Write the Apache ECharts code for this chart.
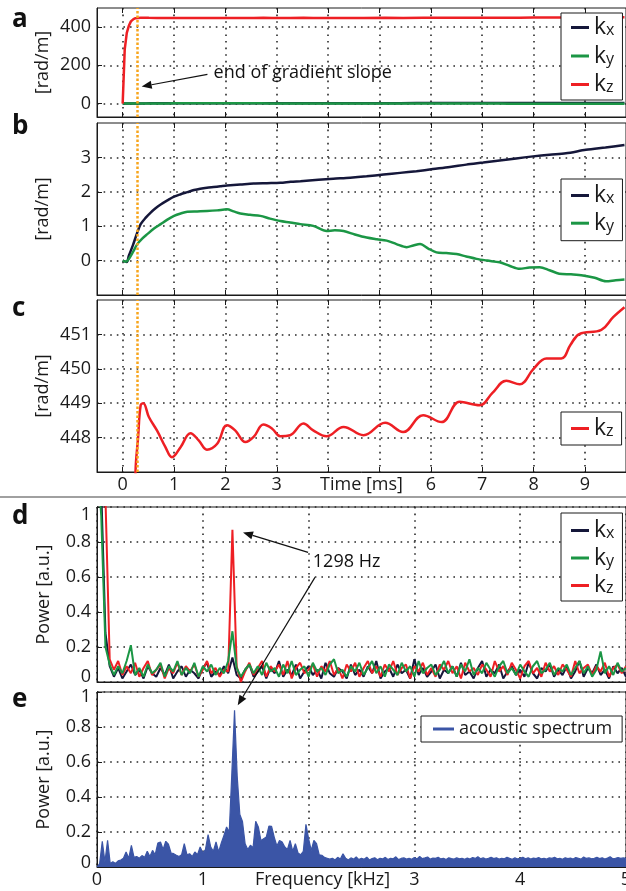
<!DOCTYPE html>
<html>
<head>
<meta charset="utf-8">
<script src="https://cdn.jsdelivr.net/npm/echarts@6/dist/echarts.min.js"></script>
<style>
html, body { margin: 0; padding: 0; background: #fff; }
#chart { width: 626px; height: 891px; }
</style>
</head>
<body>
<div id="chart"></div>
<script>
// k-space trajectories, [time ms, value rad/m]
var kxData = [[0,0],[0.08,-0.04],[0.12,0.14],[0.2,0.45],[0.285,0.82],[0.35,1.06],[0.45,1.25],[0.54,1.39],[0.64,1.52],[0.74,1.63],[0.87,1.75],[1.0,1.86],[1.13,1.93],[1.26,1.99],[1.39,2.05],[1.51,2.09],[1.64,2.12],[1.77,2.14],[1.9,2.16],[2.03,2.18],[2.29,2.21],[2.55,2.24],[2.81,2.25],[3.07,2.26],[3.27,2.29],[3.46,2.31],[3.81,2.35],[4.1,2.38],[4.43,2.41],[4.75,2.45],[5.08,2.5],[5.4,2.55],[5.72,2.6],[6.04,2.66],[6.37,2.72],[6.69,2.79],[7.02,2.85],[7.34,2.91],[7.66,2.97],[7.99,3.03],[8.31,3.08],[8.63,3.12],[9.02,3.22],[9.4,3.29],[9.77,3.36]];
var kyData = [[0,0],[0.06,-0.03],[0.12,0.05],[0.2,0.25],[0.285,0.48],[0.38,0.64],[0.48,0.77],[0.61,0.93],[0.74,1.06],[0.87,1.19],[1.0,1.3],[1.13,1.37],[1.26,1.42],[1.45,1.43],[1.64,1.44],[1.84,1.46],[2.03,1.49],[2.16,1.43],[2.29,1.37],[2.48,1.33],[2.68,1.3],[2.87,1.22],[3.07,1.15],[3.26,1.11],[3.46,1.06],[3.71,1.01],[3.97,0.86],[4.13,0.88],[4.3,0.86],[4.52,0.76],[4.75,0.67],[4.95,0.62],[5.14,0.58],[5.33,0.48],[5.53,0.39],[5.66,0.44],[5.79,0.48],[5.95,0.35],[6.11,0.24],[6.3,0.22],[6.5,0.19],[6.69,0.12],[6.89,0.05],[7.1,0.0],[7.34,-0.05],[7.53,-0.15],[7.73,-0.24],[7.92,-0.2],[8.12,-0.19],[8.31,-0.28],[8.5,-0.38],[8.73,-0.4],[8.96,-0.43],[9.19,-0.5],[9.41,-0.6],[9.6,-0.57],[9.77,-0.55]];
var kzData = [[0,0],[0.04,284],[0.08,370],[0.12,407],[0.16,430],[0.21,442],[0.25,447.0],[0.3,448.0],[0.35,448.94],[0.4,449.0],[0.51,448.6],[0.67,448.2],[0.83,447.73],[0.96,447.43],[1.13,447.73],[1.32,448.13],[1.48,447.92],[1.64,447.65],[1.84,447.82],[2.03,448.36],[2.19,448.21],[2.39,447.87],[2.55,448.02],[2.74,448.38],[2.91,448.26],[3.07,448.04],[3.26,448.07],[3.52,448.41],[3.71,448.21],[3.97,448.04],[4.3,448.31],[4.69,448.07],[5.11,448.43],[5.46,448.16],[5.85,448.65],[6.21,448.45],[6.56,449.04],[6.95,448.94],[7.2,449.3],[7.47,449.65],[7.73,449.55],[8.0,450.0],[8.25,450.3],[8.54,450.3],[8.72,450.7],[8.89,451.01],[9.32,451.13],[9.55,451.5],[9.77,451.79]];

// gradient spectra, one value every 0.04 kHz from 0 to 5 kHz
var specStep = 0.04;
var kxSpec = [1.3,1.1,0.28,0.09,0.03,0.08,0.02,0.06,0.1,0.04,
  0.07,0.02,0.09,0.05,0.03,0.08,0.04,0.1,0.02,0.06,
  0.09,0.03,0.07,0.05,0.02,0.08,0.11,0.03,0.06,0.04,
  0.09,0.05,0.14,0.04,0.02,0.07,0.1,0.03,0.06,0.09,
  0.02,0.08,0.05,0.12,0.03,0.07,0.04,0.1,0.02,0.06,
  0.09,0.04,0.07,0.02,0.11,0.05,0.03,0.08,0.06,0.02,
  0.1,0.04,0.07,0.03,0.09,0.05,0.12,0.02,0.06,0.08,
  0.03,0.1,0.05,0.07,0.02,0.13,0.04,0.08,0.03,0.06,
  0.1,0.02,0.07,0.05,0.09,0.03,0.11,0.04,0.06,0.02,
  0.08,0.12,0.03,0.07,0.05,0.1,0.02,0.06,0.09,0.04,
  0.07,0.03,0.11,0.05,0.02,0.08,0.06,0.1,0.03,0.07,
  0.04,0.09,0.02,0.06,0.12,0.03,0.08,0.05,0.1,0.04,
  0.07,0.02,0.09,0.05,0.08,0.03];
var kySpec = [1.3,0.95,0.2,0.1,0.04,0.09,0.05,0.12,0.21,0.04,
  0.08,0.03,0.1,0.05,0.07,0.11,0.03,0.09,0.06,0.12,
  0.04,0.08,0.05,0.11,0.03,0.09,0.06,0.1,0.04,0.08,
  0.05,0.12,0.29,0.08,0.03,0.07,0.1,0.05,0.09,0.04,
  0.11,0.06,0.08,0.03,0.1,0.05,0.12,0.04,0.07,0.09,
  0.03,0.11,0.06,0.08,0.04,0.1,0.13,0.05,0.07,0.03,
  0.09,0.06,0.11,0.04,0.08,0.12,0.05,0.09,0.03,0.1,
  0.07,0.04,0.11,0.06,0.09,0.03,0.12,0.05,0.08,0.1,
  0.04,0.07,0.12,0.05,0.09,0.03,0.1,0.06,0.13,0.04,
  0.08,0.05,0.11,0.07,0.03,0.09,0.12,0.05,0.08,0.04,
  0.1,0.06,0.03,0.09,0.12,0.05,0.07,0.11,0.04,0.08,
  0.06,0.1,0.04,0.08,0.12,0.05,0.09,0.03,0.07,0.175,
  0.05,0.09,0.04,0.11,0.06,0.08];
var kzSpec = [1.3,1.3,1.05,0.13,0.07,0.12,0.04,0.09,0.05,0.11,
  0.03,0.08,0.12,0.04,0.07,0.1,0.02,0.08,0.05,0.11,
  0.04,0.09,0.06,0.1,0.03,0.07,0.12,0.05,0.08,0.03,
  0.07,0.06,0.87,0.09,0.0,0.06,0.11,0.04,0.08,0.12,
  0.03,0.09,0.06,0.1,0.04,0.12,0.02,0.08,0.11,0.05,
  0.07,0.1,0.03,0.09,0.06,0.12,0.04,0.08,0.02,0.1,
  0.06,0.11,0.03,0.08,0.12,0.05,0.09,0.03,0.1,0.06,
  0.12,0.04,0.08,0.1,0.02,0.09,0.06,0.11,0.04,0.08,
  0.03,0.1,0.07,0.12,0.05,0.09,0.02,0.11,0.06,0.08,
  0.04,0.1,0.07,0.03,0.12,0.06,0.09,0.04,0.11,0.07,
  0.02,0.09,0.12,0.05,0.08,0.03,0.11,0.06,0.09,0.04,
  0.1,0.07,0.03,0.12,0.05,0.08,0.1,0.04,0.09,0.06,
  0.11,0.03,0.08,0.1,0.05,0.09];

// acoustic spectrum, one value every 0.025 kHz
var acousticStep = 0.025;
var acoustic = [0.0,0.02,0.147,0.03,0.152,0.02,0.03,0.02,0.035,0.04,
  0.05,0.086,0.05,0.124,0.055,0.06,0.05,0.065,0.055,0.09,
  0.06,0.095,0.07,0.137,0.143,0.1,0.147,0.13,0.08,0.076,
  0.067,0.06,0.07,0.133,0.07,0.076,0.06,0.086,0.07,0.114,
  0.08,0.1,0.185,0.114,0.09,0.143,0.086,0.137,0.181,0.229,
  0.2,0.543,0.895,0.52,0.3,0.26,0.133,0.1,0.124,0.11,
  0.261,0.229,0.15,0.162,0.171,0.234,0.232,0.171,0.12,0.152,
  0.143,0.114,0.1,0.152,0.09,0.133,0.08,0.07,0.09,0.244,
  0.162,0.095,0.152,0.133,0.07,0.067,0.055,0.05,0.045,0.05,
  0.04,0.055,0.045,0.076,0.05,0.04,0.052,0.045,0.058,0.042,
  0.05,0.044,0.056,0.04,0.048,0.053,0.041,0.05,0.046,0.055,
  0.043,0.05,0.047,0.058,0.042,0.049,0.052,0.045,0.05,0.044,
  0.054,0.046,0.06,0.048,0.052,0.057,0.045,0.051,0.049,0.055,
  0.046,0.05,0.043,0.053,0.048,0.045,0.052,0.047,0.05,0.044,
  0.051,0.046,0.054,0.049,0.058,0.047,0.052,0.045,0.05,0.056,
  0.048,0.053,0.045,0.05,0.047,0.055,0.049,0.044,0.052,0.046,
  0.05,0.056,0.047,0.053,0.045,0.051,0.048,0.054,0.046,0.05,
  0.045,0.052,0.049,0.055,0.047,0.05,0.044,0.053,0.048,0.051,
  0.046,0.054,0.05,0.045,0.057,0.049,0.052,0.047,0.05,0.055,
  0.048,0.053,0.046,0.051,0.058,0.047,0.05,0.054,0.049,0.052,
  0.05];

var timeTicks = [0, 1, 2, 3, 4, 5, 6, 7, 8, 9];
var timeLabels = [0, 1, 2, 3, 6, 7, 8, 9];
var freqLabels = [0, 1, 3, 4, 5];
var gradientEnd = 0.28;

var font = 'Open Sans';
var ink = '#1a1a1a';
var gridCol = '#2a2a2a';
var dots = [1.6, 5];
var cX = '#15173a', cY = '#1b9645', cZ = '#ee1f24', cA = '#3b55a6', cO = '#f8a51c';

function withFreq(vals, step) {
    return vals.map(function (v, i) { return [+(i * step).toFixed(3), v]; });
}

var gridLine = { show: true, lineStyle: { color: gridCol, width: 1.6, type: dots } };

function timeAxis(gi, pos, labels, name) {
    return {
        type: 'value', gridIndex: gi, position: pos, min: -0.5, max: 9.8,
        name: name || '', nameLocation: 'middle', nameGap: 4, nameMoveOverlap: false,
        nameTextStyle: { fontFamily: font, fontSize: 18, color: ink },
        axisLine: { show: pos === 'bottom', onZero: false, lineStyle: { color: ink } },
        axisTick: { show: true, inside: true, length: 5, customValues: timeTicks, lineStyle: { color: ink } },
        axisLabel: { show: !!labels, customValues: labels || timeTicks, margin: 4,
            fontFamily: font, fontSize: 18, color: ink },
        splitLine: pos === 'bottom' ? gridLine : { show: false }
    };
}

function valAxis(gi, min, max, ticks, name, gap) {
    return {
        type: 'value', gridIndex: gi, min: min, max: max,
        name: name, nameLocation: 'middle', nameGap: gap, nameMoveOverlap: false,
        nameTextStyle: { fontFamily: font, fontSize: 18, color: ink },
        axisLine: { show: true, onZero: false, lineStyle: { color: ink } },
        axisTick: { show: true, inside: true, length: 5, customValues: ticks, lineStyle: { color: ink } },
        axisLabel: { customValues: ticks, margin: 6, fontFamily: font, fontSize: 18, color: ink },
        splitLine: gridLine
    };
}

function powerAxis(gi, shiftTop, shiftBottom) {
    var st = { fontFamily: font, fontSize: 18, color: ink };
    return {
        type: 'value', gridIndex: gi, min: 0, max: 1, interval: 0.2,
        name: 'Power [a.u.]', nameLocation: 'middle', nameGap: 44, nameMoveOverlap: false,
        nameTextStyle: st,
        axisLine: { show: true, onZero: false, lineStyle: { color: ink } },
        axisTick: { show: true, inside: true, length: 5, lineStyle: { color: ink } },
        axisLabel: {
            margin: 6, fontFamily: font, fontSize: 18, color: ink,
            formatter: function (v) {
                if (v === 1) return '{hi|1}';
                if (v === 0) return '{lo|0}';
                return String(v);
            },
            rich: {
                hi: Object.assign({ padding: [shiftTop, 0, 0, 0] }, st),
                lo: Object.assign({ padding: [0, 0, shiftBottom, 0] }, st)
            }
        },
        splitLine: gridLine
    };
}

function freqAxis(gi, labels) {
    return {
        type: 'value', gridIndex: gi, min: 0, max: 5, interval: 1,
        name: labels ? 'Frequency [kHz]' : '', nameLocation: 'middle', nameGap: 4, nameMoveOverlap: false,
        nameTextStyle: { fontFamily: font, fontSize: 18, color: ink, padding: [0, 78, 0, 0] },
        axisLine: { show: true, onZero: false, lineStyle: { color: ink } },
        axisTick: { show: true, inside: true, length: 5, lineStyle: { color: ink } },
        axisLabel: { show: labels, customValues: freqLabels, margin: 4,
            fontFamily: font, fontSize: 18, color: ink },
        splitLine: gridLine
    };
}

var subRich = {
    k: { fontFamily: font, fontSize: 23, lineHeight: 22, color: ink },
    s: { fontFamily: font, fontSize: 16, lineHeight: 8, verticalAlign: 'bottom', color: ink }
};
function kLegend(top, names, pad, gap) {
    return {
        orient: 'vertical', left: 561, top: top, data: names,
        padding: pad, itemGap: gap, itemWidth: 18, itemHeight: 3, icon: 'rect',
        backgroundColor: '#fff', borderColor: ink, borderWidth: 1, borderRadius: 0,
        selectedMode: false,
        formatter: function (n) { return '{k|k}{s|' + n.slice(1) + '}'; },
        textStyle: { rich: subRich }
    };
}

var orangeLine = {
    silent: true, symbol: 'none', label: { show: false },
    lineStyle: { color: cO, width: 2.5, type: [2.5, 2] },
    data: [{ xAxis: gradientEnd }]
};

function line(name, color, xi, yi, data, width, extra) {
    return Object.assign({
        name: name, type: 'line', xAxisIndex: xi, yAxisIndex: yi, data: data,
        showSymbol: false, symbol: 'none', clip: true,
        itemStyle: { color: color }, lineStyle: { color: color, width: width }
    }, extra || {});
}

var chart = echarts.init(document.getElementById('chart'));
var gridBase = { left: 97, right: 0, show: true, borderColor: ink, borderWidth: 1, outerBoundsMode: 'none' };

var option = {
    animation: false,
    textStyle: { fontFamily: font },
    grid: [
        Object.assign({ top: 8, height: 109 }, gridBase),
        Object.assign({ top: 123, height: 172 }, gridBase),
        Object.assign({ top: 300, height: 172 }, gridBase),
        Object.assign({ top: 507, height: 175 }, gridBase),
        Object.assign({ top: 692, height: 175 }, gridBase)
    ],
    xAxis: [
        timeAxis(0, 'bottom', null), timeAxis(0, 'top', null),
        timeAxis(1, 'bottom', null), timeAxis(1, 'top', null),
        timeAxis(2, 'bottom', timeLabels, 'Time [ms]'), timeAxis(2, 'top', null),
        freqAxis(3, false), freqAxis(4, true)
    ],
    yAxis: [
        valAxis(0, -70, 500, [0, 200, 400], '[rad/m]', 45),
        valAxis(1, -1, 4, [0, 1, 2, 3], '[rad/m]', 45),
        valAxis(2, 447, 452, [448, 449, 450, 451], '[rad/m]', 45),
        powerAxis(3, 16, 10),
        powerAxis(4, 10, 8)
    ],
    legend: [
        kLegend(13, ['kx', 'ky', 'kz'], [3, 8, 4, 10], 5.5),
        kLegend(179, ['kx', 'ky'], [5, 8, 6, 10], 4.7),
        kLegend(412, ['kz'], [5, 8, 5, 10], 5),
        kLegend(513, ['kx', 'ky', 'kz'], [6, 8, 4, 10], 4.5),
        {
            orient: 'vertical', left: 421, top: 716, data: ['acoustic spectrum'],
            padding: [3, 10, 3, 12], itemWidth: 21, itemHeight: 3, icon: 'rect',
            backgroundColor: '#fff', borderColor: ink, borderWidth: 1, selectedMode: false,
            textStyle: { fontFamily: font, fontSize: 18, color: ink, lineHeight: 20 }
        }
    ],
    series: [
        line('kx', cX, 0, 0, kxData, 2.5),
        line('ky', cY, 0, 0, kyData, 2.5),
        line('kz', cZ, 0, 0, kzData, 2.5, { markLine: orangeLine }),
        line('kx', cX, 2, 1, kxData, 2.5, { smooth: 0.3, markLine: orangeLine }),
        line('ky', cY, 2, 1, kyData, 2.5, { smooth: 0.3 }),
        line('kz', cZ, 4, 2, kzData, 2.5, { smooth: 0.4, markLine: orangeLine }),
        line('kx', cX, 6, 3, withFreq(kxSpec, specStep), 2),
        line('kz', cZ, 6, 3, withFreq(kzSpec, specStep), 2),
        line('ky', cY, 6, 3, withFreq(kySpec, specStep), 2),
        line('acoustic spectrum', cA, 7, 4, withFreq(acoustic, acousticStep), 1.2,
            { areaStyle: { color: cA, opacity: 1 } })
    ]
};
chart.setOption(option);

// annotations, anchored in data space
function px(xi, yi, p) {
    return chart.convertToPixel({ xAxisIndex: xi, yAxisIndex: yi }, p);
}
function arrow(p0, p1) {
    var dx = p1[0] - p0[0], dy = p1[1] - p0[1];
    var len = Math.sqrt(dx * dx + dy * dy), ux = dx / len, uy = dy / len;
    var hl = 10, hw = 4;
    var bx = p1[0] - ux * hl, by = p1[1] - uy * hl;
    return [
        { type: 'line', shape: { x1: p0[0], y1: p0[1], x2: bx, y2: by },
          style: { stroke: '#111', lineWidth: 1.2 }, z: 100 },
        { type: 'polygon', shape: { points: [[p1[0], p1[1]], [bx - uy * hw, by + ux * hw], [bx + uy * hw, by - ux * hw]] },
          style: { fill: '#111' }, z: 100 }
    ];
}
function label(p, text, size, bold) {
    return { type: 'text', x: p[0], y: p[1], z: 100,
        style: { text: text, fontFamily: font, fontSize: size, fontWeight: bold ? 'bold' : 'normal',
                 fill: '#111', verticalAlign: 'middle', align: 'left' } };
}

var g = [];
g = g.concat(arrow(px(0, 0, [1.65, 153]), px(0, 0, [0.37, 89])));
g.push(label(px(0, 0, [1.77, 163]), 'end of gradient slope', 18));
g = g.concat(arrow(px(6, 3, [1.995, 0.741]), px(6, 3, [1.38, 0.855])));
g = g.concat(arrow(px(6, 3, [2.06, 0.598]), px(7, 4, [1.33, 0.924])));
g.push(label(px(6, 3, [2.04, 0.684]), '1298 Hz', 18));
g.push({ type: 'line', shape: { x1: 0, y1: 497, x2: 626, y2: 497 }, style: { stroke: '#a0a0a0', lineWidth: 2 } });
[['a', 20], ['b', 127], ['c', 309], ['d', 517], ['e', 700]].forEach(function (l) {
    g.push(label([12, l[1]], l[0], 26, true));
});
chart.setOption({ graphic: g });
window.addEventListener('resize', chart.resize);
</script>
</body>
</html>
